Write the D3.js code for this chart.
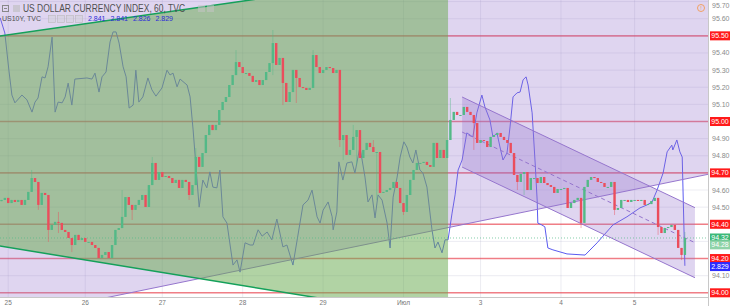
<!DOCTYPE html>
<html>
<head>
<meta charset="utf-8">
<script src="https://cdn.jsdelivr.net/npm/d3@7"></script>
<style>
  html, body { margin: 0; padding: 0; background: #fff; }
  svg { display: block; font-family: "Liberation Sans", Arial, sans-serif; }
</style>
</head>
<body>
<svg id="chart" width="730" height="306"></svg>
<script>
// DXY hourly closes, one per bar (open = previous close)
const closes = [
  94.542, 94.554, 94.524, 94.542, 94.530, 94.542, 94.513, 94.542, 94.589, 94.670, 94.647, 94.513, 94.583, 94.571,
  94.367, 94.396, 94.414, 94.408, 94.367, 94.355, 94.320, 94.279, 94.338, 94.308, 94.320, 94.297, 94.297, 94.279, 94.262, 94.203,
  94.221, 94.238, 94.203, 94.279,
  94.367, 94.378, 94.443, 94.559, 94.513, 94.484, 94.513, 94.542, 94.571, 94.501, 94.629, 94.758, 94.659, 94.705,
  94.676, 94.682, 94.670, 94.641, 94.659, 94.612, 94.659, 94.647, 94.571, 94.629, 94.793, 94.735, 94.816, 94.921,
  94.980, 94.950, 94.980, 95.067, 95.114, 95.143, 95.213, 95.271, 95.347, 95.318, 95.283, 95.283, 95.266, 95.231,
  95.242, 95.213, 95.242, 95.289, 95.341, 95.458, 95.330, 95.371, 95.225, 95.114, 95.172, 95.301, 95.254, 95.201,
  95.196, 95.184, 95.196, 95.388, 95.318, 95.283, 95.301, 95.318, 95.312, 95.283, 95.301,
  94.892, 94.921, 94.805, 94.834, 94.910, 94.950, 94.787, 94.834, 94.875, 94.851, 94.822, 94.822, 94.583, 94.589,
  94.600, 94.612, 94.647, 94.612, 94.524, 94.472, 94.571, 94.659, 94.717, 94.758, 94.758, 94.764, 94.746, 94.735,
  94.875, 94.787, 94.834, 94.787,
  94.892, 95.009, 95.056, 95.038, 95.038, 95.085, 95.056, 95.038, 94.991, 94.875, 94.892, 94.886, 94.851, 94.910,
  94.921, 94.933, 94.910, 94.892, 94.875, 94.816, 94.688, 94.647, 94.694, 94.705, 94.600, 94.670, 94.670, 94.641,
  94.676, 94.641, 94.629, 94.618, 94.583, 94.606, 94.606,
  94.612, 94.495, 94.524, 94.542, 94.554, 94.408, 94.618, 94.659, 94.676, 94.670, 94.647, 94.641, 94.618, 94.618,
  94.647, 94.484, 94.495, 94.542, 94.542, 94.530, 94.542, 94.542, 94.536, 94.542, 94.513, 94.518, 94.536, 94.554,
  94.384, 94.349, 94.378, 94.384, 94.396, 94.367, 94.262, 94.221, 94.320
];
const firstOpen = 94.535;

// visible wicks: [bar, high, low]
const wicks = [
  [9, 94.717, null], [11, null, 94.484], [14, null, 94.297], [17, 94.472, 94.349], [21, null, 94.238],
  [36, 94.600, null], [39, null, 94.425], [45, 94.793, null], [56, null, 94.542], [58, 94.845, null],
  [70, 95.417, null], [81, 95.534, 95.271], [84, null, 95.096], [88, null, 95.108], [93, 95.417, null],
  [101, null, 94.851], [102, null, 94.775], [105, 94.980, null], [106, null, 94.746], [111, 94.892, null],
  [112, null, 94.542], [120, null, 94.454], [134, 95.137, null], [141, null, 94.834], [154, null, 94.600],
  [156, null, 94.571], [173, null, 94.378], [183, null, 94.454], [196, null, 94.338], [203, null, 94.191],
  [204, 94.355, null]
];

// US10Y compare line, traced as [bar, yield]
const us10y = [
  [-0.4, 2.8960], [1.0, 2.8919], [2.2, 2.8819], [3.1, 2.8752], [4.0, 2.8731], [6.1, 2.8752], [7.6, 2.8739],
  [9.1, 2.8706], [10.0, 2.8733], [10.9, 2.8744], [12.1, 2.8801], [13.0, 2.8798], [13.9, 2.8828], [15.1, 2.8908],
  [16.0, 2.8706], [16.9, 2.8733], [18.1, 2.8731], [19.0, 2.8747], [19.9, 2.8784], [21.0, 2.8725], [21.9, 2.8795],
  [25.5, 2.8798], [27.0, 2.8795], [27.9, 2.8811], [29.1, 2.8760], [30.0, 2.8801], [31.2, 2.8814], [32.4, 2.8895],
  [33.3, 2.8922], [34.2, 2.8922], [35.1, 2.8892], [36.3, 2.8828], [37.2, 2.8801], [38.1, 2.8717], [39.3, 2.8725],
  [40.1, 2.8819], [41.0, 2.8733], [42.2, 2.8747], [43.7, 2.8798], [44.9, 2.8766], [46.1, 2.8749], [47.9, 2.8771],
  [49.4, 2.8819], [50.3, 2.8806], [51.2, 2.8811], [52.4, 2.8774], [53.3, 2.8795], [55.4, 2.8779], [56.3, 2.8747],
  [57.2, 2.8658], [59.0, 2.8450], [60.1, 2.8523], [61.3, 2.8502], [62.2, 2.8545], [63.1, 2.8504], [64.3, 2.8502],
  [65.2, 2.8550], [66.1, 2.8424], [67.3, 2.8407], [69.1, 2.8294], [70.3, 2.8308], [71.2, 2.8275], [72.7, 2.8354],
  [74.2, 2.8348], [75.1, 2.8348], [76.6, 2.8389], [77.8, 2.8372], [79.3, 2.8383], [80.7, 2.8362], [82.2, 2.8418],
  [84.0, 2.8343], [85.2, 2.8348], [87.0, 2.8294], [88.5, 2.8375], [90.0, 2.8456], [91.5, 2.8469], [92.7, 2.8496],
  [94.2, 2.8424], [95.1, 2.8407], [96.0, 2.8442], [97.5, 2.8464], [98.7, 2.8424], [99.0, 2.8389], [100.1, 2.8437],
  [100.7, 2.8572], [101.9, 2.8523], [103.1, 2.8569], [104.6, 2.8572], [105.5, 2.8542], [107.0, 2.8612], [108.5, 2.8531],
  [109.4, 2.8464], [110.6, 2.8483], [111.5, 2.8421], [112.4, 2.8483], [113.6, 2.8469], [115.1, 2.8407], [116.0, 2.8340],
  [116.9, 2.8477], [118.1, 2.8531], [119.0, 2.8585], [120.1, 2.8626], [121.0, 2.8612], [121.9, 2.8585], [122.8, 2.8569],
  [123.7, 2.8604], [124.9, 2.8550], [125.8, 2.8542], [127.0, 2.8504], [128.5, 2.8389], [129.4, 2.8340], [130.3, 2.8356],
  [131.5, 2.8327], [132.4, 2.8362], [133.3, 2.8362], [134.5, 2.8434], [135.4, 2.8483], [136.3, 2.8550], [137.5, 2.8577],
  [138.9, 2.8650], [139.9, 2.8644], [140.7, 2.8639], [141.9, 2.8704], [143.4, 2.8752], [144.3, 2.8720], [145.8, 2.8685],
  [146.7, 2.8639], [147.9, 2.8650], [148.8, 2.8612], [149.7, 2.8577], [150.9, 2.8596], [151.8, 2.8666], [152.7, 2.8747],
  [153.9, 2.8758], [154.8, 2.8760], [155.7, 2.8793], [156.6, 2.8801], [157.2, 2.8779], [158.4, 2.8704], [159.3, 2.8569],
  [159.9, 2.8469], [160.1, 2.8407], [161.3, 2.8402], [162.2, 2.8397], [163.1, 2.8340], [164.6, 2.8335], [168.8, 2.8324],
  [174.2, 2.8321], [177.8, 2.8354], [182.5, 2.8402], [186.7, 2.8424], [190.6, 2.8448], [192.7, 2.8456], [194.2, 2.8464],
  [195.7, 2.8496], [197.5, 2.8542], [198.7, 2.8599], [200.1, 2.8617], [200.4, 2.8604], [201.6, 2.8631], [202.5, 2.8599],
  [203.2, 2.8585], [204.0, 2.8292]
];
const us10yLegend = ["2.841", "2.841", "2.826", "2.829"];
const us10yLast = 2.829;

// drawings, in [bar, price]
const greenUpper = [[-0.45, 95.499], [74.2, 95.709]];
const greenLower = [[-0.45, 94.273], [92.7, 93.976]];
const greenZoneEnd = 133.3;
const lavenderEdge = [[32.4, 93.976], [205.5, 94.670]];
const channelTop = [[137.5, 95.143], [207.0, 94.497]];
const channelBottom = [[137.5, 94.734], [207.0, 94.088]];
const levels = [95.50, 95.00, 94.70, 94.40, 94.20, 94.00];

// axes
const dayBars = [2, 25, 48, 72, 96, 120, 143, 167, 189];
const dayLabels = ["25", "26", "27", "28", "29", "Июл", "3", "4", "5"];
const priceTicks = d3.range(940, 958).map((v) => v / 10);
const sideLabels = [
  { v: 94.32, text: "94.32", fill: "#3cb878" },
  { v: 94.28, text: "94.28", fill: "#8fd3a8" }
];

const UP = "#53b987", DOWN = "#eb4d5c";
const PW = 708, PH = 297;

const svg = d3.select("#chart");
const x = d3.scaleLinear().domain([-0.45, 210.9]).range([0, PW]);
const y = d3.scaleLinear().domain([93.9755, 95.7093]).range([PH, 0]);
const y2 = d3.scaleLinear().domain([2.8208, 2.9008]).range([PH, 0]);

const lineAt = (seg, b) => {
  const [[b0, p0], [b1, p1]] = seg;
  return p0 + (p1 - p0) * (b - b0) / (b1 - b0);
};
const pts = (arr) => arr.map(([b, p]) => [x(b), y(p)].join(",")).join(" ");

svg.append("defs").append("clipPath").attr("id", "plot")
  .append("rect").attr("width", PW).attr("height", PH);

const g = svg.append("g").attr("clip-path", "url(#plot)");

// grid
g.selectAll(".vgrid").data(dayBars).enter().append("line")
  .attr("x1", (d) => x(d)).attr("x2", (d) => x(d))
  .attr("y1", 0).attr("y2", PH)
  .attr("stroke", "rgba(150,150,185,0.18)");
g.selectAll(".hgrid").data(priceTicks).enter().append("line")
  .attr("x1", 0).attr("x2", PW)
  .attr("y1", (d) => y(d)).attr("y2", (d) => y(d))
  .attr("stroke", "rgba(150,150,185,0.18)");

// level lines
g.selectAll(".level").data(levels).enter().append("line")
  .attr("x1", 0).attr("x2", PW)
  .attr("y1", (d) => y(d)).attr("y2", (d) => y(d))
  .attr("stroke", "rgba(240,50,60,0.6)").attr("stroke-width", 1.6);

// us10y
g.append("path")
  .datum(us10y)
  .attr("d", d3.line().x((d) => x(d[0])).y((d) => y2(d[1])))
  .attr("fill", "none").attr("stroke", "#5b5bf0").attr("stroke-width", 1);

// lavender zone above the rising edge
g.append("polygon")
  .attr("points", pts([[-5, 96.2], [215, 96.2], [215, lineAt(lavenderEdge, 215)], [-5, lineAt(lavenderEdge, -5)]]))
  .attr("fill", "#9575cd").attr("fill-opacity", 0.3);
g.append("line")
  .attr("x1", x(-5)).attr("y1", y(lineAt(lavenderEdge, -5)))
  .attr("x2", x(215)).attr("y2", y(lineAt(lavenderEdge, 215)))
  .attr("stroke", "#9575cd").attr("stroke-width", 1);

// green wedge, cut at the zone end
g.append("polygon")
  .attr("points", pts([
    [-5, lineAt(greenUpper, -5)], [greenZoneEnd, lineAt(greenUpper, greenZoneEnd)],
    [greenZoneEnd, lineAt(greenLower, greenZoneEnd)], [-5, lineAt(greenLower, -5)]]))
  .attr("fill", "#6aab50").attr("fill-opacity", 0.52);

// descending channel
g.append("polygon")
  .attr("points", pts([channelTop[0], channelTop[1], channelBottom[1], channelBottom[0]]))
  .attr("fill", "#9575cd").attr("fill-opacity", 0.3);
[channelTop, channelBottom].forEach((seg) => {
  g.append("line")
    .attr("x1", x(seg[0][0])).attr("y1", y(seg[0][1]))
    .attr("x2", x(seg[1][0])).attr("y2", y(seg[1][1]))
    .attr("stroke", "#9575cd").attr("stroke-width", 1);
});
g.append("line")
  .attr("x1", x(channelTop[0][0])).attr("y1", y((channelTop[0][1] + channelBottom[0][1]) / 2))
  .attr("x2", x(channelTop[1][0])).attr("y2", y((channelTop[1][1] + channelBottom[1][1]) / 2))
  .attr("stroke", "#9575cd").attr("stroke-width", 1).attr("stroke-dasharray", "4,3");

// green trend lines
[greenUpper, greenLower].forEach((seg) => {
  g.append("line")
    .attr("x1", x(-5)).attr("y1", y(lineAt(seg, -5)))
    .attr("x2", x(150)).attr("y2", y(lineAt(seg, 150)))
    .attr("stroke", "#14a05a").attr("stroke-width", 1.5);
});

// last price line
g.append("line")
  .attr("x1", 0).attr("x2", PW)
  .attr("y1", y(closes[closes.length - 1])).attr("y2", y(closes[closes.length - 1]))
  .attr("stroke", UP).attr("stroke-opacity", 0.7).attr("stroke-dasharray", "1,2");

// candles
const candles = closes.map((c, i) => {
  const o = i ? closes[i - 1] : firstOpen;
  return { i: i, o: o, c: c, h: Math.max(o, c), l: Math.min(o, c) };
});
wicks.forEach(([i, h, l]) => {
  if (h !== null) candles[i].h = Math.max(candles[i].h, h);
  if (l !== null) candles[i].l = Math.min(candles[i].l, l);
});
const cg = g.append("g").attr("class", "candles");
cg.selectAll(".wick").data(candles).enter().append("line")
  .attr("x1", (d) => x(d.i)).attr("x2", (d) => x(d.i))
  .attr("y1", (d) => y(d.h)).attr("y2", (d) => y(d.l))
  .attr("stroke", (d) => d.c >= d.o ? UP : DOWN).attr("stroke-opacity", 0.45);
cg.selectAll(".body").data(candles).enter().append("rect")
  .attr("x", (d) => x(d.i) - 1.2).attr("width", 2.4)
  .attr("y", (d) => y(Math.max(d.o, d.c)))
  .attr("height", (d) => Math.max(1, Math.abs(y(d.o) - y(d.c))))
  .attr("fill", (d) => d.c >= d.o ? UP : DOWN);

// legend
const lg = svg.append("g");
lg.append("rect").attr("x", 2.5).attr("y", 5.5).attr("width", 6).attr("height", 6)
  .attr("fill", "none").attr("stroke", "#888");
lg.append("line").attr("x1", 4).attr("x2", 7).attr("y1", 8.5).attr("y2", 8.5).attr("stroke", "#888");
lg.append("rect").attr("x", 13).attr("y", 5).attr("width", 7).attr("height", 7)
  .attr("fill", "#bdbdbd").attr("opacity", 0.6);
lg.append("text").attr("x", 23).attr("y", 12)
  .attr("font-size", 10).attr("fill", "#505050")
  .attr("textLength", 162).attr("lengthAdjust", "spacingAndGlyphs")
  .text("US DOLLAR CURRENCY INDEX, 60, TVC");
[198, 207].forEach((bx) => {
  lg.append("rect").attr("x", bx).attr("y", 5).attr("width", 7).attr("height", 7)
    .attr("fill", "#c4c4c4").attr("opacity", 0.55);
});
lg.append("text").attr("x", 2).attr("y", 21)
  .attr("font-size", 7).attr("fill", "#505050").text("US10Y, TVC");
[48, 57, 66, 75].forEach((bx) => {
  lg.append("rect").attr("x", bx + 0.5).attr("y", 15.5).attr("width", 7).attr("height", 7)
    .attr("fill", "rgba(210,210,215,0.5)").attr("stroke", "#bbb").attr("stroke-width", 0.6);
});
lg.selectAll(".lv").data(us10yLegend).enter().append("text")
  .attr("x", (d, i) => 88 + i * 22.5).attr("y", 21)
  .attr("font-size", 7).attr("fill", "#2c2cd8").text((d) => d);

// alert icon
svg.append("circle").attr("cx", 701).attr("cy", 8).attr("r", 3.5)
  .attr("fill", "none").attr("stroke", "#f2a064").attr("stroke-width", 1);
svg.append("text").attr("x", 701).attr("y", 10.3).attr("text-anchor", "middle")
  .attr("font-size", 6).attr("fill", "#f2a064").text("!");

// price axis
const ax = svg.append("g");
ax.append("rect").attr("x", PW).attr("y", 0).attr("width", 730 - PW).attr("height", 306).attr("fill", "#fff");
ax.append("rect").attr("x", 0).attr("y", PH).attr("width", 730).attr("height", 306 - PH).attr("fill", "#fff");
ax.append("line").attr("x1", PW + 0.5).attr("x2", PW + 0.5).attr("y1", 0).attr("y2", 306).attr("stroke", "#c8c8c8");
ax.append("line").attr("x1", 0).attr("x2", PW).attr("y1", PH + 0.5).attr("y2", PH + 0.5).attr("stroke", "#c8c8c8");

const boxed = levels.concat([94.30]);
ax.selectAll(".ptick").data(priceTicks.filter((p) => !boxed.some((b) => Math.abs(b - p) < 1e-6)))
  .enter().append("text")
  .attr("x", 712).attr("y", (d) => Math.max(7.5, y(d) + 2.5))
  .attr("font-size", 7).attr("fill", "#8a8a8a")
  .text((d) => d.toFixed(2));

const tags = levels.map((v) => ({ yy: y(v), text: v.toFixed(2), fill: "#ff1a1a" }))
  .concat(sideLabels.map((s) => ({ yy: y(s.v), text: s.text, fill: s.fill })))
  .concat([{ yy: y2(us10yLast), text: us10yLast.toFixed(3), fill: "#2b2bff" }]);
const tg = ax.selectAll(".tag").data(tags).enter().append("g");
tg.append("rect")
  .attr("x", 710).attr("y", (d) => d.yy - 4.5).attr("width", 20).attr("height", 9)
  .attr("fill", (d) => d.fill);
tg.append("text")
  .attr("x", 720).attr("y", (d) => d.yy + 2.5).attr("text-anchor", "middle")
  .attr("font-size", 7).attr("fill", "#fff")
  .text((d) => d.text);

// time axis
ax.selectAll(".xtick").data(dayBars).enter().append("text")
  .attr("x", (d) => x(d)).attr("y", 304.5).attr("text-anchor", "middle")
  .attr("font-size", 6.5).attr("fill", "#777")
  .text((d, i) => dayLabels[i]);
</script>
</body>
</html>
